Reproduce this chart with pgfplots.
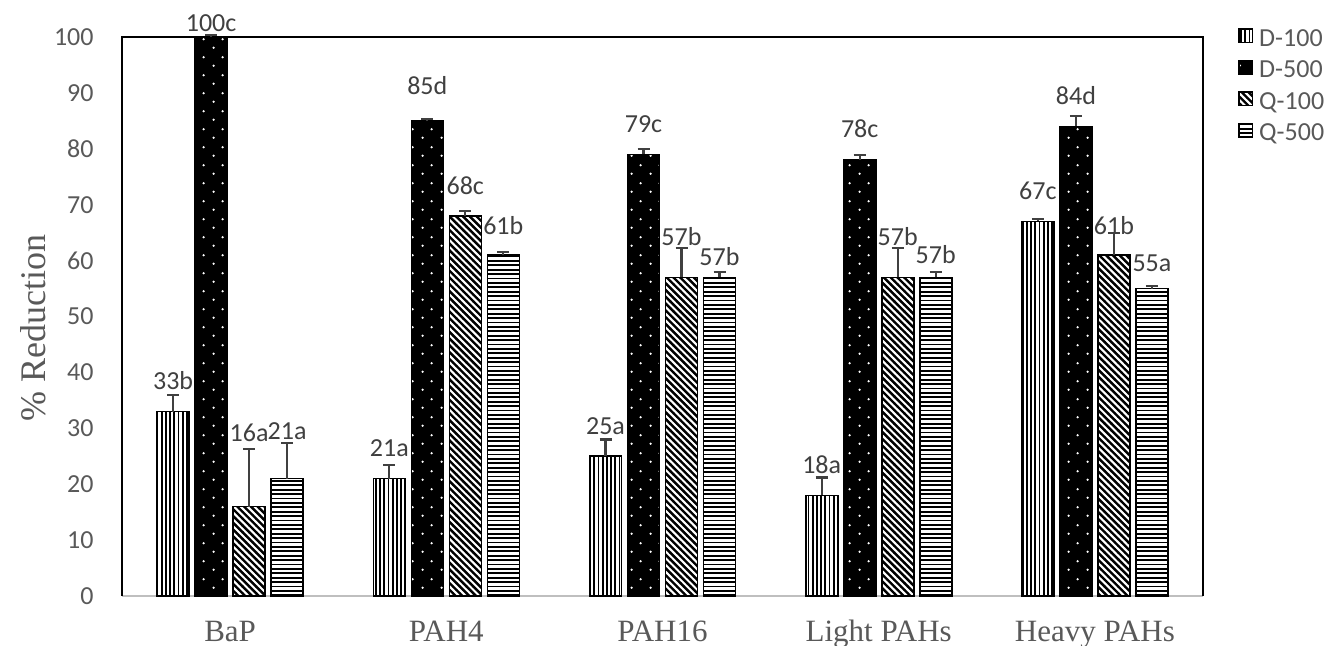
\documentclass[border=0pt]{standalone}
\usepackage{fontspec}
\setmainfont{Carlito}
\newfontfamily\tnr{Liberation Serif}
\usepackage{pgfplots}
\pgfplotsset{compat=1.18}
\usepackage{pgfplotstable}
\usetikzlibrary{patterns.meta}

\definecolor{lbl}{HTML}{404040}
\definecolor{txt}{HTML}{595959}
\definecolor{basecol}{HTML}{BFBFBF}

% fill patterns of the four series
\tikzdeclarepattern{name=vl, type=uncolored,
  bottom left={(-0.1pt,-0.1pt)}, top right={(2.2pt,2.2pt)}, tile size={(2.1pt,2.1pt)},
  code={\pgfsetlinewidth{0.9pt}\pgfpathmoveto{\pgfpoint{1.05pt}{-0.2pt}}%
    \pgfpathlineto{\pgfpoint{1.05pt}{2.3pt}}\pgfusepath{stroke}}}
\tikzdeclarepattern{name=hl, type=uncolored,
  bottom left={(-0.1pt,-0.1pt)}, top right={(2.3pt,2.3pt)}, tile size={(2.2pt,2.2pt)},
  code={\pgfsetlinewidth{0.9pt}\pgfpathmoveto{\pgfpoint{-0.2pt}{1.1pt}}%
    \pgfpathlineto{\pgfpoint{2.4pt}{1.1pt}}\pgfusepath{stroke}}}
\tikzdeclarepattern{name=dl, type=uncolored,
  bottom left={(-0.1pt,-0.1pt)}, top right={(2.5pt,2.5pt)}, tile size={(2.4pt,2.4pt)},
  tile transformation={rotate=-45},
  code={\pgfsetlinewidth{1.2pt}\pgfpathmoveto{\pgfpoint{-0.2pt}{1.2pt}}%
    \pgfpathlineto{\pgfpoint{2.6pt}{1.2pt}}\pgfusepath{stroke}}}
\tikzdeclarepattern{name=dotsw, type=uncolored,
  bottom left={(0pt,0pt)}, top right={(9.5pt,9pt)}, tile size={(9.5pt,9pt)},
  code={\pgfpathcircle{\pgfpoint{2.4pt}{2.25pt}}{0.65pt}%
    \pgfpathcircle{\pgfpoint{7.15pt}{6.75pt}}{0.65pt}\pgfusepath{fill}}}

\pgfplotsset{
  barbase/.style={draw=black, line width=0.8pt,
    legend image code/.code={\draw[##1, line width=0.8pt] (0pt,-1pt) rectangle (6.6pt,5.6pt);},
    visualization depends on={\thisrow{off}\as\off},
    /pgfplots/error bars/y dir=plus,
    /pgfplots/error bars/y explicit,
    /pgfplots/error bars/error bar style={line width=1.1pt, color=lbl, solid},
    /pgfplots/error bars/error mark options={rotate=90, mark size=3pt, line width=1.1pt, color=lbl}},
}

% x: category, y: % reduction, e: error, lab: data label, off: label gap above bar (pt)
\pgfplotstableread{
x y e lab off
0 33 2.9 33b 11
1 21 2.5 21a 11
2 25 3.0 25a 11
3 18 3.2 18a 11
4 67 0.5 67c 11
}\dA
\pgfplotstableread{
x y e lab off
0 100 0.4 100c 2.5
1 85 0.4 85d 13
2 79 1.0 79c 11
3 78 0.9 78c 11
4 84 1.8 84d 11
}\dB
\pgfplotstableread{
x y e lab off
0 16 10.3 16a 32.5
1 68 0.9 68c 10.5
2 57 5.2 57b 16
3 57 5.2 57b 16
4 61 3.9 61b 10.5
}\qA
\pgfplotstableread{
x y e lab off
0 21 6.4 21a 19.5
1 61 0.5 61b 10.5
2 57 0.9 57b 6
3 57 1.0 57b 7
4 55 0.5 55a 8.5
}\qB

\begin{document}
\begin{tikzpicture}
\begin{axis}[
  name=ax,
  scale only axis, width=540.5pt, height=279.5pt,
  ybar=3pt, bar width=16pt,
  xmin=-0.5, xmax=4.5, ymin=0, ymax=100,
  xtick={0,...,4},
  xticklabels={BaP,PAH4,PAH16,Light PAHs,Heavy PAHs},
  ytick={0,10,...,100},
  major tick length=0pt,
  axis line style={draw=none},
  clip=false,
  tick label style={color=txt},
  /pgf/number format/assume math mode=true,
  yticklabel style={font=\fontsize{13}{15}\selectfont, anchor=east, inner sep=0pt, xshift=-14pt},
  xticklabel style={font=\tnr\fontsize{15.5}{18}\selectfont, anchor=base, inner sep=0pt, yshift=-23pt},
  ylabel={\% Reduction},
  every axis y label/.style={at={(axis description cs:-0.0712,0.48)}, rotate=90, anchor=base,
    font=\tnr\fontsize{18}{20}\selectfont, color=txt},
  point meta=explicit symbolic,
  nodes near coords,
  every node near coord/.append style={anchor=base, font=\fontsize{13}{15}\selectfont,
    color=lbl, yshift=\off*1pt},
  legend style={at={(1.0324,1.0197)}, anchor=north west, draw=none, fill=none, inner sep=0pt,
    row sep=1.75pt, font=\fontsize{13}{15}\selectfont, text=txt,
    nodes={inner sep=1pt, text height=9pt, text depth=3pt},
    /tikz/every odd column/.append style={column sep=2pt}},
  legend cell align=left,
]
\draw[basecol, line width=0.8pt] (rel axis cs:0,0) -- (rel axis cs:1,0);
\draw[black, line width=0.7pt] (rel axis cs:0,0) -- (rel axis cs:0,1) -- (rel axis cs:1,1) -- (rel axis cs:1,0);

\addplot[barbase, pattern=vl, pattern color=black]
  table[x=x, y=y, y error=e, meta=lab] {\dA};
\addplot[barbase, fill=black, postaction={pattern=dotsw, pattern color=white}]
  table[x=x, y=y, y error=e, meta=lab] {\dB};
\addplot[barbase, pattern=dl, pattern color=black]
  table[x=x, y=y, y error=e, meta=lab] {\qA};
\addplot[barbase, pattern=hl, pattern color=black]
  table[x=x, y=y, y error=e, meta=lab] {\qB};
\legend{D-100,D-500,Q-100,Q-500}
\end{axis}
\pgfresetboundingbox
\path ([shift={(-61pt,-25pt)}]ax.south west) rectangle ([shift={(64.5pt,18.5pt)}]ax.north east);
\end{tikzpicture}
\end{document}
